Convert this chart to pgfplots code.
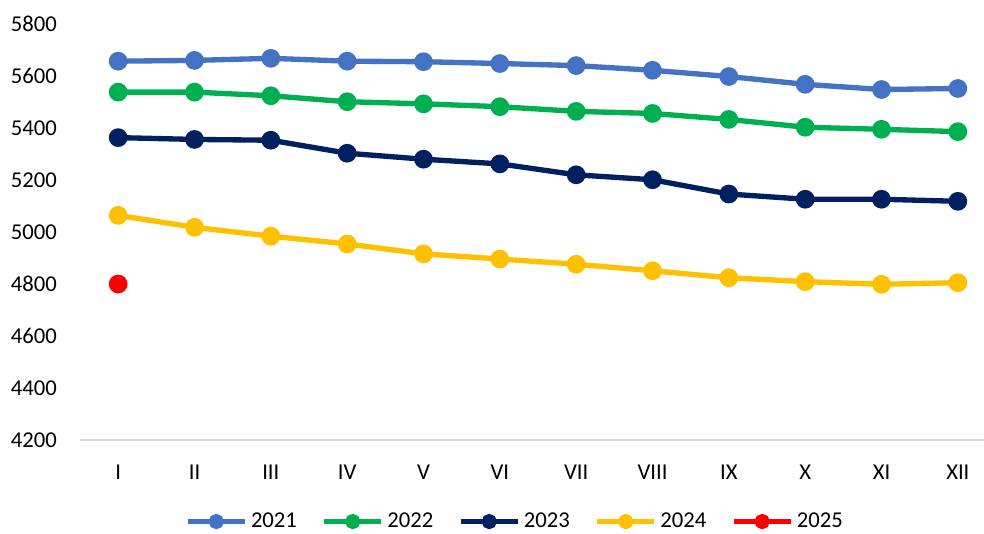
\documentclass[border=0pt]{standalone}
\usepackage{pgfplots}
\pgfplotsset{compat=1.18}
\usepackage{fontspec}
\setmainfont{Carlito}
\definecolor{c21}{HTML}{4472C4}
\definecolor{c22}{HTML}{00B050}
\definecolor{c23}{HTML}{002060}
\definecolor{c24}{HTML}{FFC000}
\definecolor{c25}{HTML}{FF0000}
\definecolor{axgray}{HTML}{D9D9D9}
\begin{document}
\begin{tikzpicture}
\path[use as bounding box] (0pt,0pt) rectangle (738pt,399.75pt);
\begin{axis}[
  at={(60pt,69.75pt)}, anchor=south west,
  scale only axis, width=687pt, height=312pt,
  xmin=-0.5, xmax=11.5, ymin=4200, ymax=5800,
  ytick={4200,4400,...,5800},
  xtick={0,...,11},
  xticklabels={I,II,III,IV,V,VI,VII,VIII,IX,X,XI,XII},
  axis lines=left,
  x axis line style={-, draw=axgray, line width=0.9pt},
  y axis line style={draw=none},
  tick style={draw=none},
  major tick length=0pt,
  font=\fontsize{17}{20}\selectfont,
  ticklabel style={font=\fontsize{17}{20}\selectfont},
  /pgf/number format/assume math mode=true,
  /pgf/number format/1000 sep={},
  yticklabel style={anchor=east, inner sep=0pt, xshift=-17.25pt},
  xticklabel style={anchor=base, inner sep=0pt, yshift=-29.25pt},
  clip=false,
  every axis plot/.append style={line width=4pt, mark=*, mark size=5pt, mark options={solid}},
  legend columns=-1,
  legend style={draw=none, fill=none, at={(0.474,-0.196)}, anchor=center,
    font=\fontsize{17}{20}\selectfont,
    nodes={inner sep=0pt},
    /tikz/every odd column/.append style={column sep=3pt},
    /tikz/every even column/.append style={column sep=18.75pt}},
  legend cell align=left,
  legend image code/.code={
    \draw[mark repeat=2, mark phase=2, #1, line width=3.4pt, mark size=4pt] plot coordinates {(0pt,0pt) (21.4pt,0pt) (42.75pt,0pt)};
  },
]
\addplot[color=c21] coordinates {(0,5657) (1,5660) (2,5668) (3,5657) (4,5655) (5,5648) (6,5640) (7,5622) (8,5598) (9,5568) (10,5548) (11,5552)};
\addlegendentry{2021}
\addplot[color=c22] coordinates {(0,5538) (1,5538) (2,5524) (3,5501) (4,5493) (5,5482) (6,5464) (7,5456) (8,5433) (9,5403) (10,5395) (11,5386)};
\addlegendentry{2022}
\addplot[color=c23] coordinates {(0,5363) (1,5356) (2,5353) (3,5303) (4,5280) (5,5262) (6,5220) (7,5201) (8,5146) (9,5126) (10,5126) (11,5118)};
\addlegendentry{2023}
\addplot[color=c24] coordinates {(0,5064) (1,5018) (2,4984) (3,4954) (4,4916) (5,4896) (6,4876) (7,4851) (8,4824) (9,4809) (10,4799) (11,4805)};
\addlegendentry{2024}
\addplot[color=c25] coordinates {(0,4800)};
\addlegendentry{2025}
\end{axis}
\end{tikzpicture}
\end{document}
